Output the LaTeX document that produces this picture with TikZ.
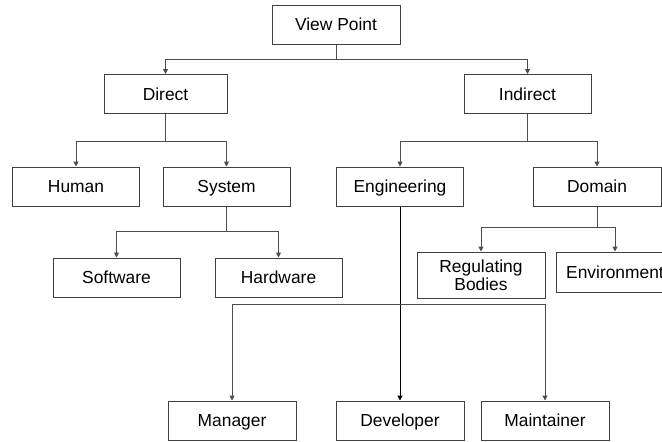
\documentclass[tikz,border=0pt]{standalone}
\usepackage{fontspec}
\setmainfont{Liberation Sans}
\usetikzlibrary{arrows.meta}
\begin{document}
\begin{tikzpicture}[x=1pt,y=-1pt,
  box/.style={draw=black!75, line width=1pt, fill=white, minimum width=127pt,
    minimum height=39pt, inner sep=0pt, align=center,
    text height=12.4pt, text depth=0pt,
    font=\fontsize{17.4}{19}\selectfont},
  link/.style={draw=black!70, line width=1pt},
  arr/.style={link, -{Triangle[length=5pt,width=5pt]}}]
\clip (0,0) rectangle (662,442);
\fill[white] (0,0) rectangle (662,442);

% tree nodes
\node[box, minimum width=128pt] (vp) at (336,24.5) {View Point};
\node[box, minimum width=123pt] (direct) at (165.5,94) {Direct};
\node[box] (indirect) at (527.5,94) {Indirect};
\node[box] (human) at (76,186.5) {Human};
\node[box] (system) at (226.5,186.5) {System};
\node[box] (eng) at (400,186.5) {Engineering};
\node[box, minimum width=128pt] (domain) at (597,186.5) {Domain};
\node[box] (software) at (116.5,277.5) {Software};
\node[box] (hardware) at (278.5,277.5) {Hardware};
\node[box, minimum width=128pt, minimum height=46pt, text height=, text depth=] (reg) at (481,275) {Regulating\\[-1pt]Bodies};
\node[box, minimum width=118pt, minimum height=40pt] (env) at (615,272) {Environment};
\node[box, minimum width=128pt] (manager) at (232,420.5) {Manager};
\node[box, minimum width=128pt] (developer) at (400,420.5) {Developer};
\node[box, minimum width=128pt] (maintainer) at (545,420.5) {Maintainer};

% connectors
\draw[arr] (vp.south) -- ++(0,14.5) -| (direct.north);
\draw[arr] (vp.south) -- ++(0,14.5) -| (indirect.north);
\draw[arr] (direct.south) -- ++(0,27) -| (human.north);
\draw[arr] (direct.south) -- ++(0,27) -| (system.north);
\draw[arr] (indirect.south) -- ++(0,27) -| (eng.north);
\draw[arr] (indirect.south) -- ++(0,27) -| (domain.north);
\draw[arr] (system.south) -- ++(0,25) -| (software.north);
\draw[arr] (system.south) -- ++(0,25) -| (hardware.north);
\draw[arr] (domain.south) -- ++(0,21) -| (reg.north);
\draw[arr] (domain.south) -- ++(0,21) -| (env.north);
\draw[arr, draw=black] (eng.south) -- (developer.north);
\coordinate (ebus) at (400,304);
\draw[arr] (ebus) -| (manager.north);
\draw[arr] (ebus) -| (maintainer.north);
\end{tikzpicture}
\end{document}
